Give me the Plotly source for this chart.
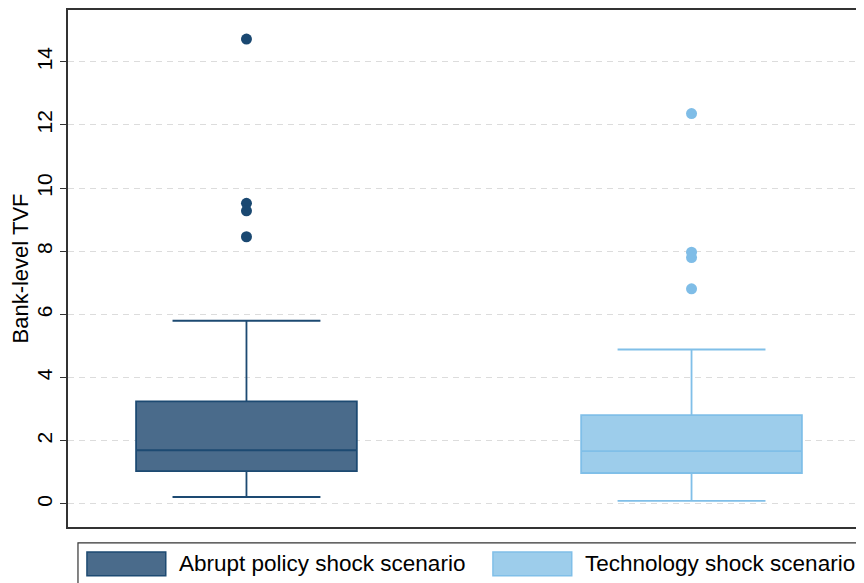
import plotly.graph_objects as go

# scenario names and box statistics
scenarios = ['Abrupt policy shock scenario', 'Technology shock scenario']
lower_whisker = [0.22, 0.10]
q1 = [1.04, 0.98]
median = [1.70, 1.67]
q3 = [3.25, 2.81]
upper_whisker = [5.80, 4.89]
outliers = [[14.72, 9.52, 9.28, 8.46], [12.36, 7.97, 7.80, 6.81]]

fills = ['#4a6b8b', '#9dcdeb']
lines = ['#1d4a72', '#80bfe8']
markers = ['#1a4871', '#7fbde7']

fig = go.Figure()

for i, name in enumerate(scenarios):
    fig.add_trace(go.Box(
        x=[i], q1=[q1[i]], median=[median[i]], q3=[q3[i]],
        lowerfence=[lower_whisker[i]], upperfence=[upper_whisker[i]],
        name=name, width=0.496, whiskerwidth=0.67,
        fillcolor=fills[i], line=dict(color=lines[i], width=1.8),
        boxpoints=False, showlegend=False, hoverinfo='skip'))
    fig.add_trace(go.Scatter(
        x=[i] * len(outliers[i]), y=outliers[i], mode='markers',
        marker=dict(color=markers[i], size=11),
        showlegend=False, hoverinfo='skip'))

# hand-built legend box below the plot (Stata style); page pixels -> paper
def px_x(p):
    return (p - 68) / 804

def px_y(p):
    return (527 - p) / 519

shapes = [dict(type='rect', xref='paper', yref='paper',
               x0=px_x(78), x1=px_x(862), y0=px_y(543), y1=px_y(595),
               line=dict(color='#333333', width=1.2), fillcolor='white')]
annotations = []
swatch_left = [87, 494]
for i, name in enumerate(scenarios):
    shapes.append(dict(type='rect', xref='paper', yref='paper',
                       x0=px_x(swatch_left[i]), x1=px_x(swatch_left[i] + 79),
                       y0=px_y(576), y1=px_y(552),
                       fillcolor=fills[i], line=dict(color=lines[i], width=1.5)))
    annotations.append(dict(xref='paper', yref='paper',
                            x=px_x(swatch_left[i] + 90), y=px_y(564),
                            text=name, showarrow=False, xanchor='left', yanchor='middle',
                            font=dict(size=22.5, color='#000000')))

fig.update_layout(
    width=864, height=583,
    margin=dict(l=60, r=0, t=0, b=64),
    paper_bgcolor='white', plot_bgcolor='white',
    font=dict(family='Liberation Sans, Arial, sans-serif', size=18, color='#000000'),
    shapes=shapes, annotations=annotations,
    showlegend=False,
)
fig.update_xaxes(range=[-0.401, 1.401], showticklabels=False, ticks='',
                 showgrid=False, zeroline=False,
                 showline=True, linecolor='#333333', linewidth=1.8, mirror=True)
fig.update_yaxes(range=[-0.73, 15.64], tickvals=list(range(0, 15, 2)),
                 tickangle=-90, ticks='outside', ticklen=6, tickcolor='#333333',
                 tickfont=dict(size=21),
                 showgrid=True, gridcolor='#dcdcdc', griddash='6px,5px', gridwidth=1.2,
                 zeroline=False,
                 showline=True, linecolor='#333333', linewidth=1.8, mirror=True,
                 title=dict(text='Bank-level TVF', standoff=0))

fig.write_html('out.html')
